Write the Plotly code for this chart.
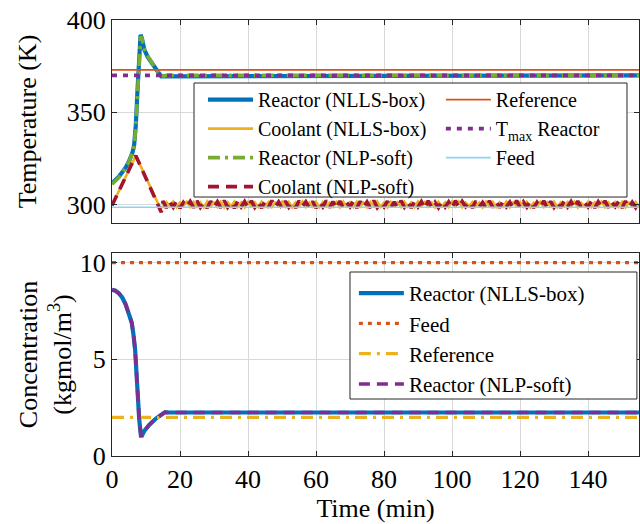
import plotly.graph_objects as go

# ---------------- data ----------------
# Top panel: temperatures (K) vs time (min)
t_reactor = [0, 1, 2, 3, 4, 5, 6, 6.5, 7, 7.5, 8, 8.4, 8.8, 9.5, 10.5, 11.5, 12.5, 13.5, 14.5, 15.2, 16, 155]
T_reactor_box = [311.5, 313, 315, 317.5, 320, 323.5, 328, 332, 343, 362, 378, 392, 390, 384, 380, 377, 374.5, 372, 369.5, 369.5, 370, 370]
T_reactor_soft = [311, 312.6, 314.6, 317.2, 319.8, 323.2, 327.8, 331.5, 342, 361, 377, 391, 390, 384.5, 380.5, 377.2, 374.6, 372.1, 369.8, 369.6, 370, 370]

t_cool_ramp = [0, 7, 14.2]
T_cool_box_ramp = [299.5, 326.5, 298.0]
t_cool_ramp_soft = [0, 7, 14.5]
T_cool_soft_ramp = [299.5, 326.5, 295.8]

t_osc = list(range(15, 156))
T_cool_soft_osc = [
    301.9, 298.2, 301.4, 298.6, 302.1, 298.0, 301.2, 298.9, 301.7, 298.3,
    302.0, 298.5, 301.0, 298.1, 301.8, 298.7, 301.5, 298.2, 302.2, 298.6,
    301.3, 298.0, 301.9, 298.8, 301.6, 298.3, 302.0, 298.5, 301.1, 298.1,
    301.8, 298.4, 302.1, 298.7, 301.4, 298.0, 301.9, 298.6, 301.2, 298.2,
    302.0, 298.9, 301.5, 298.3, 301.8, 298.1, 301.3, 298.7, 302.1, 298.4,
    301.6, 298.0, 301.9, 298.5, 301.2, 298.8, 302.0, 298.2, 301.7, 298.6,
    301.4, 298.1, 302.2, 298.4, 301.0, 298.7, 301.8, 298.0, 301.5, 298.3,
    302.1, 298.6, 301.3, 298.2, 301.9, 298.8, 301.6, 298.0, 302.0, 298.5,
    301.2, 298.3, 301.8, 298.7, 301.4, 298.1, 302.1, 298.4, 301.7, 298.9,
    301.5, 298.2, 301.9, 298.6, 301.1, 298.0, 302.0, 298.5, 301.6, 298.3,
    301.8, 298.8, 301.3, 298.1, 302.2, 298.4, 301.5, 298.7, 301.9, 298.2,
    301.2, 298.6, 302.0, 298.0, 301.7, 298.5, 301.4, 298.3, 302.1, 298.8,
    301.6, 298.1, 301.9, 298.4, 301.0, 298.7, 301.8, 298.2, 301.5, 298.6,
    302.0, 298.3, 301.3, 298.9, 301.7, 298.1, 301.9, 298.5, 301.2, 298.4,
    301.8,
]
T_cool_box_osc = [
    298.8, 301.3, 299.0, 301.6, 298.6, 301.1, 299.2, 301.5, 298.7, 301.4,
    298.9, 301.2, 298.5, 301.7, 299.1, 301.0, 298.7, 301.5, 298.6, 301.3,
    299.0, 301.6, 298.8, 301.1, 298.5, 301.4, 299.1, 301.2, 298.7, 301.6,
    298.9, 301.3, 298.6, 301.0, 299.2, 301.5, 298.8, 301.4, 298.5, 301.2,
    299.0, 301.6, 298.7, 301.1, 298.9, 301.5, 298.6, 301.3, 299.1, 301.0,
    298.8, 301.4, 298.5, 301.6, 299.0, 301.2, 298.7, 301.5, 298.9, 301.1,
    298.6, 301.3, 299.2, 301.6, 298.8, 301.0, 298.5, 301.4, 299.0, 301.2,
    298.7, 301.5, 298.9, 301.1, 298.6, 301.6, 299.1, 301.3, 298.8, 301.0,
    298.5, 301.4, 299.0, 301.2, 298.7, 301.5, 298.9, 301.6, 298.6, 301.1,
    299.2, 301.3, 298.8, 301.0, 298.5, 301.5, 299.0, 301.4, 298.7, 301.2,
    298.9, 301.6, 298.6, 301.1, 299.1, 301.3, 298.8, 301.5, 298.5, 301.0,
    299.0, 301.4, 298.7, 301.2, 298.9, 301.6, 298.6, 301.1, 299.2, 301.3,
    298.8, 301.5, 298.5, 301.0, 299.0, 301.4, 298.7, 301.2, 298.9, 301.6,
    298.6, 301.1, 299.1, 301.3, 298.8, 301.5, 298.5, 301.0, 299.0, 301.4,
    298.7,
]

t_const = [0, 155]
T_reference = [373, 373]
T_max = [370, 370]
T_feed = [298.5, 298.5]

# Bottom panel: concentrations (kgmol/m^3)
t_conc = [0, 1, 2, 3, 4, 5, 5.8, 6.3, 6.8, 7.2, 7.5, 8.0, 8.5, 8.8, 9.5, 11, 13, 15, 15.6, 16.5, 155]
C_reactor_box = [8.6, 8.55, 8.42, 8.2, 7.85, 7.35, 6.9, 6.3, 5.5, 4.3, 3.3, 1.9, 1.05, 1.05, 1.3, 1.62, 1.95, 2.2, 2.27, 2.25, 2.25]
C_reactor_soft = [8.6, 8.55, 8.42, 8.2, 7.85, 7.35, 6.9, 6.3, 5.5, 4.3, 3.3, 1.9, 1.07, 1.07, 1.3, 1.62, 1.95, 2.2, 2.26, 2.25, 2.25]
C_feed = [10, 10]
C_reference = [2.0, 2.0]

x_ticks = [0, 20, 40, 60, 80, 100, 120, 140]
T_ticks = [300, 350, 400]
C_ticks = [0, 5, 10]

# ---------------- styling ----------------
BLUE = "#0072BD"
ORANGE = "#D95319"
YELLOW = "#EDB120"
PURPLE = "#7E2F8E"
GREEN = "#77AC30"
LBLUE = "#8ED3F2"
DRED = "#A2142F"
FONT = "Liberation Serif, Times New Roman, Times, serif"
LEGEND_FONT = '"Liberation Serif", "Times New Roman", serif'

fig = go.Figure()

def add(x, y, name, color, width, dash="solid", ax=1, legend="legend"):
    fig.add_trace(go.Scatter(
        x=x, y=y, name=name, mode="lines",
        line=dict(color=color, width=width, dash=dash),
        xaxis="x" if ax == 1 else "x2", yaxis="y" if ax == 1 else "y2",
        legend=legend, hoverinfo="skip",
    ))

# top panel
add(t_reactor, T_reactor_box, "Reactor (NLLS-box)", BLUE, 4.2)
add(t_cool_ramp + t_osc, T_cool_box_ramp + T_cool_box_osc, "Coolant (NLLS-box)", YELLOW, 2.6)
add(t_reactor, T_reactor_soft, "Reactor (NLP-soft)", GREEN, 3.6, dash="12px,5px,3px,5px")
add(t_cool_ramp_soft + t_osc, T_cool_soft_ramp + T_cool_soft_osc, "Coolant (NLP-soft)", DRED, 3.6, dash="11px,7px")
add(t_const, T_reference, "Reference", ORANGE, 1.6, legend="legend2")
add(t_const, T_max, "T<sub>max</sub> Reactor", PURPLE, 3.6, dash="5px,6px", legend="legend2")
add(t_const, T_feed, "Feed", LBLUE, 1.6, legend="legend2")

# bottom panel
add(t_conc, C_reactor_box, "Reactor (NLLS-box)", BLUE, 4.2, ax=2, legend="legend3")
add(t_const, C_feed, "Feed", ORANGE, 3.2, dash="4px,5px", ax=2, legend="legend3")
add(t_const, C_reference, "Reference", YELLOW, 3.2, dash="12px,6px,3px,6px", ax=2, legend="legend3")
add(t_conc, C_reactor_soft, "Reactor (NLP-soft)", PURPLE, 3.6, dash="11px,7px", ax=2, legend="legend3")

axis_common = dict(
    showline=True, linecolor="#262626", linewidth=1, mirror="ticks",
    ticks="inside", ticklen=5, tickcolor="#262626", tickwidth=1,
    showgrid=True, gridcolor="#d9d9d9", gridwidth=1, zeroline=False,
    tickfont=dict(family=FONT, size=26, color="black"),
)

legend_common = dict(xanchor="left", yanchor="top", bgcolor="rgba(0,0,0,0)",
                     borderwidth=0, tracegroupgap=0, itemwidth=45)

fig.update_layout(
    width=640, height=524,
    margin=dict(l=112, r=1, t=20, b=68),
    paper_bgcolor="white", plot_bgcolor="white",
    font=dict(family=FONT, color="black"),
    xaxis=dict(domain=[0, 1], anchor="y", range=[0, 155], tickvals=x_ticks,
               showticklabels=False, **axis_common),
    yaxis=dict(domain=[0.5344, 1], anchor="x", range=[290, 400], tickvals=T_ticks,
               title=dict(text="Temperature (K)", font=dict(family=FONT, size=26), standoff=22),
               **axis_common),
    xaxis2=dict(domain=[0, 1], anchor="y2", range=[0, 155], tickvals=x_ticks,
                title=dict(text="Time (min)", font=dict(family=FONT, size=26), standoff=4),
                **axis_common),
    yaxis2=dict(domain=[0, 0.4656], anchor="x2", range=[0, 10.5], tickvals=C_ticks,
                title=dict(text="Concentration<br>(kgmol/m<sup>3</sup>)", font=dict(family=FONT, size=26), standoff=0),
                **axis_common),
    legend=dict(x=0.1727, y=0.862, font=dict(family=LEGEND_FONT, size=20, color="black"), **legend_common),
    legend2=dict(x=0.624, y=0.862, font=dict(family=LEGEND_FONT, size=20, color="black"), **legend_common),
    legend3=dict(x=0.459, y=0.42, font=dict(family=LEGEND_FONT, size=21, color="black"), **legend_common),
    shapes=[
        dict(type="rect", xref="paper", yref="paper", x0=0.1556, x1=0.9772, y0=0.594, y1=0.8555,
             fillcolor="white", line=dict(color="#262626", width=1), layer="above"),
        dict(type="rect", xref="paper", yref="paper", x0=0.4516, x1=0.996, y0=0.1307, y1=0.422,
             fillcolor="white", line=dict(color="#262626", width=1), layer="above"),
    ],
)

fig.write_html("out.html")
